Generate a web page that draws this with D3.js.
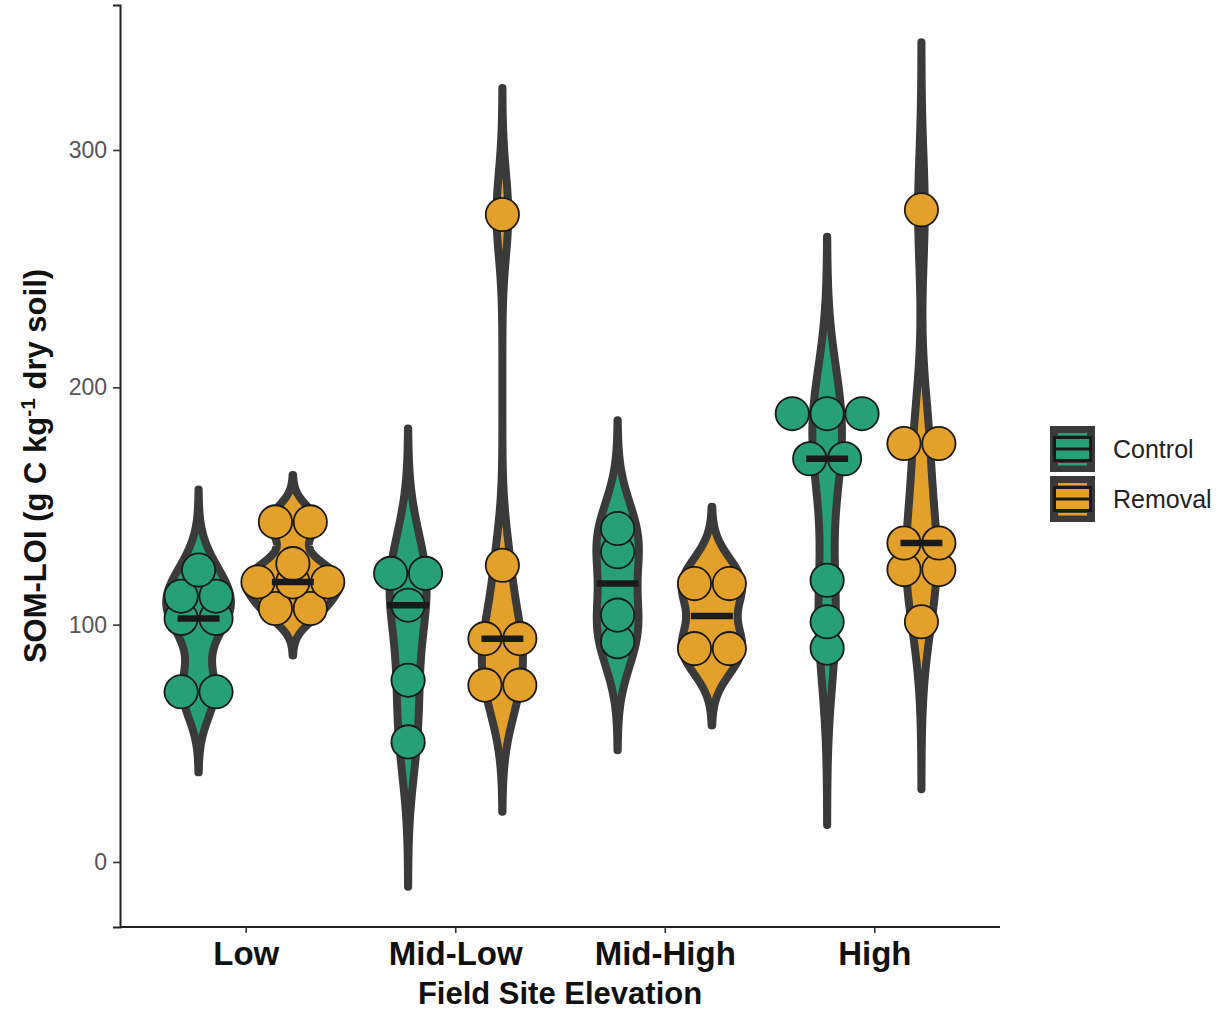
<!DOCTYPE html>
<html>
<head>
<meta charset="utf-8">
<script src="https://cdn.jsdelivr.net/npm/d3@7"></script>
<style>
  body { margin: 0; background: #fff; }
  svg { display: block; }
</style>
</head>
<body>
<div id="chart"></div>
<script>
const categories = ["Low", "Mid-Low", "Mid-High", "High"];
const treatments = ["Control", "Removal"];
const colors = ["#27a078", "#e3a02b"];
const yTicks = [0, 100, 200, 300];
const yDomain = [-27.4, 361.1];

// SOM-LOI values (g C / kg)
const lowControl = [123, 112, 112, 102.6, 102.6, 71.7, 71.7];
const lowRemoval = [143.3, 143.3, 125.7, 118, 118, 118, 106.8, 106.8];
const midLowControl = [121.6, 121.6, 108.2, 76.6, 50.6];
const midLowRemoval = [272.8, 125, 94.1, 94.1, 74.5, 74.5];
const midHighControl = [140.5, 130.7, 104, 92.8];
const midHighRemoval = [117.3, 117.3, 89.9, 89.9];
const highControl = [188.9, 188.9, 188.9, 169.9, 169.9, 118.7, 101.2, 90.1];
const highRemoval = [274.8, 176.3, 176.3, 134.4, 134.4, 123.2, 123.2, 101.2];

const groups = [
  { cat: "Low", trt: "Control", values: lowControl },
  { cat: "Low", trt: "Removal", values: lowRemoval },
  { cat: "Mid-Low", trt: "Control", values: midLowControl },
  { cat: "Mid-Low", trt: "Removal", values: midLowRemoval },
  { cat: "Mid-High", trt: "Control", values: midHighControl },
  { cat: "Mid-High", trt: "Removal", values: midHighRemoval },
  { cat: "High", trt: "Control", values: highControl },
  { cat: "High", trt: "Removal", values: highRemoval },
];

const binwidth = 14.7; // dot diameter in data units

// bandwidth like R's bw.nrd0
function nrd0(vals) {
  const s = vals.slice().sort(d3.ascending);
  const sd = d3.deviation(s);
  const iqr = d3.quantileSorted(s, 0.75) - d3.quantileSorted(s, 0.25);
  let lo = Math.min(sd, iqr / 1.34);
  if (!lo) lo = sd || Math.abs(s[0]) || 1;
  return 0.9 * lo * Math.pow(s.length, -0.2);
}

function kde(vals, bw) {
  const lo = d3.min(vals) - 3 * bw;
  const hi = d3.max(vals) + 3 * bw;
  const n = 512;
  const pts = [];
  for (let i = 0; i < n; i++) {
    const y = lo + (hi - lo) * i / (n - 1);
    let s = 0;
    vals.forEach((v) => {
      const z = (y - v) / bw;
      s += Math.exp(-0.5 * z * z);
    });
    pts.push({ y: y, d: s / (vals.length * bw * Math.sqrt(2 * Math.PI)) });
  }
  return pts;
}

groups.forEach((g) => {
  g.bw = nrd0(g.values);
  g.density = kde(g.values, g.bw);
  g.median = d3.median(g.values);
});
const maxDens = d3.max(groups, (g) => d3.max(g.density, (p) => p.d));

const width = 1222;
const height = 1012;
const margin = { top: 5, right: 222, bottom: 85, left: 120 };
const plotW = width - margin.left - margin.right;
const plotH = height - margin.top - margin.bottom;
const font = "Liberation Sans, Arial, sans-serif";

const svg = d3.select("#chart").append("svg")
  .attr("width", width)
  .attr("height", height);

const y = d3.scaleLinear().domain(yDomain).range([margin.top + plotH, margin.top]);
const x = d3.scalePoint().domain(categories).range([margin.left, margin.left + plotW]).padding(0.6);
const step = x.step();
const dodge = d3.scalePoint().domain(treatments).range([-0.225 * step, 0.225 * step]);
const color = d3.scaleOrdinal().domain(treatments).range(colors);

const halfMax = 0.225 * step;

// violins
const violinG = svg.append("g");
groups.forEach((g) => {
  const cx = x(g.cat) + dodge(g.trt);
  const area = d3.area()
    .y((p) => y(p.y))
    .x0((p) => cx - (p.d / maxDens) * halfMax)
    .x1((p) => cx + (p.d / maxDens) * halfMax);
  violinG.append("path")
    .attr("d", area(g.density))
    .attr("fill", color(g.trt))
    .attr("stroke", "#3a3a3a")
    .attr("stroke-width", 8)
    .attr("stroke-linejoin", "round")
    .attr("stroke-linecap", "round");
});

// dot stacks
const r = (y(0) - y(binwidth)) / 2;
const dotG = svg.append("g");
groups.forEach((g) => {
  const cx = x(g.cat) + dodge(g.trt);
  const bins = d3.rollups(g.values, (v) => v.length, (v) => v).sort((a, b) => a[0] - b[0]);
  bins.forEach(([val, k]) => {
    for (let i = 0; i < k; i++) {
      dotG.append("circle")
        .attr("cx", cx + (i - (k - 1) / 2) * 2 * r)
        .attr("cy", y(val))
        .attr("r", r - 0.8)
        .attr("fill", color(g.trt))
        .attr("stroke", "#1a1a1a")
        .attr("stroke-width", 1.8);
    }
  });
});

// medians
const medG = svg.append("g");
groups.forEach((g) => {
  const cx = x(g.cat) + dodge(g.trt);
  medG.append("line")
    .attr("x1", cx - 0.1 * step)
    .attr("x2", cx + 0.1 * step)
    .attr("y1", y(g.median))
    .attr("y2", y(g.median))
    .attr("stroke", "#1a1a1a")
    .attr("stroke-width", 6.5);
});

// axes
const yAxis = svg.append("g")
  .attr("transform", `translate(${margin.left},0)`)
  .call(d3.axisLeft(y).tickValues(yTicks).tickSize(7).tickPadding(6));
yAxis.select(".domain").attr("stroke", "#222").attr("stroke-width", 2);
yAxis.selectAll(".tick line").attr("stroke", "#333").attr("stroke-width", 1.6);
yAxis.selectAll(".tick text")
  .attr("fill", "#555")
  .style("font-family", font)
  .style("font-size", "23px");

const xAxis = svg.append("g")
  .attr("transform", `translate(0,${margin.top + plotH})`)
  .call(d3.axisBottom(x).tickSize(6).tickPadding(6));
xAxis.select(".domain").attr("stroke", "#222").attr("stroke-width", 2)
  .attr("d", `M${margin.left},0H${margin.left + plotW}`);
xAxis.selectAll(".tick line").attr("stroke", "#333").attr("stroke-width", 1.6);
xAxis.selectAll(".tick text")
  .attr("fill", "#111")
  .attr("dy", "0.78em")
  .style("font-family", font)
  .style("font-size", "33px")
  .style("font-weight", "bold");

svg.append("text")
  .attr("x", margin.left + plotW / 2)
  .attr("y", 1004)
  .attr("text-anchor", "middle")
  .attr("fill", "#111")
  .style("font-family", font)
  .style("font-size", "31px")
  .style("font-weight", "bold")
  .text("Field Site Elevation");

const yt = svg.append("text")
  .attr("transform", `translate(46,${margin.top + plotH / 2}) rotate(-90)`)
  .attr("text-anchor", "middle")
  .attr("fill", "#111")
  .style("font-family", font)
  .style("font-size", "31px")
  .style("font-weight", "bold");
yt.append("tspan").text("SOM-LOI (g C kg");
yt.append("tspan").attr("dy", -11).style("font-size", "21px").text("-1");
yt.append("tspan").attr("dy", 11).text(" dry soil)");

// legend
const legend = svg.append("g").attr("transform", "translate(1050,426)");
treatments.forEach((t, i) => {
  const k = legend.append("g").attr("transform", `translate(0,${i * 50})`);
  k.append("rect").attr("width", 45).attr("height", 46).attr("fill", "#3a3a3a");
  k.append("rect").attr("x", 8).attr("y", 7).attr("width", 29).attr("height", 2.5).attr("fill", color(t));
  k.append("rect").attr("x", 8).attr("y", 37).attr("width", 29).attr("height", 2.5).attr("fill", color(t));
  k.append("rect").attr("x", 4.5).attr("y", 11.5).attr("width", 36).attr("height", 23)
    .attr("fill", color(t)).attr("stroke", "#1a1a1a").attr("stroke-width", 3);
  k.append("line").attr("x1", 4.5).attr("x2", 40.5).attr("y1", 23).attr("y2", 23)
    .attr("stroke", "#1a1a1a").attr("stroke-width", 3);
  k.append("text")
    .attr("x", 63)
    .attr("y", 23)
    .attr("dy", "0.35em")
    .attr("fill", "#222")
    .style("font-family", font)
    .style("font-size", "25px")
    .text(t);
});
</script>
</body>
</html>
